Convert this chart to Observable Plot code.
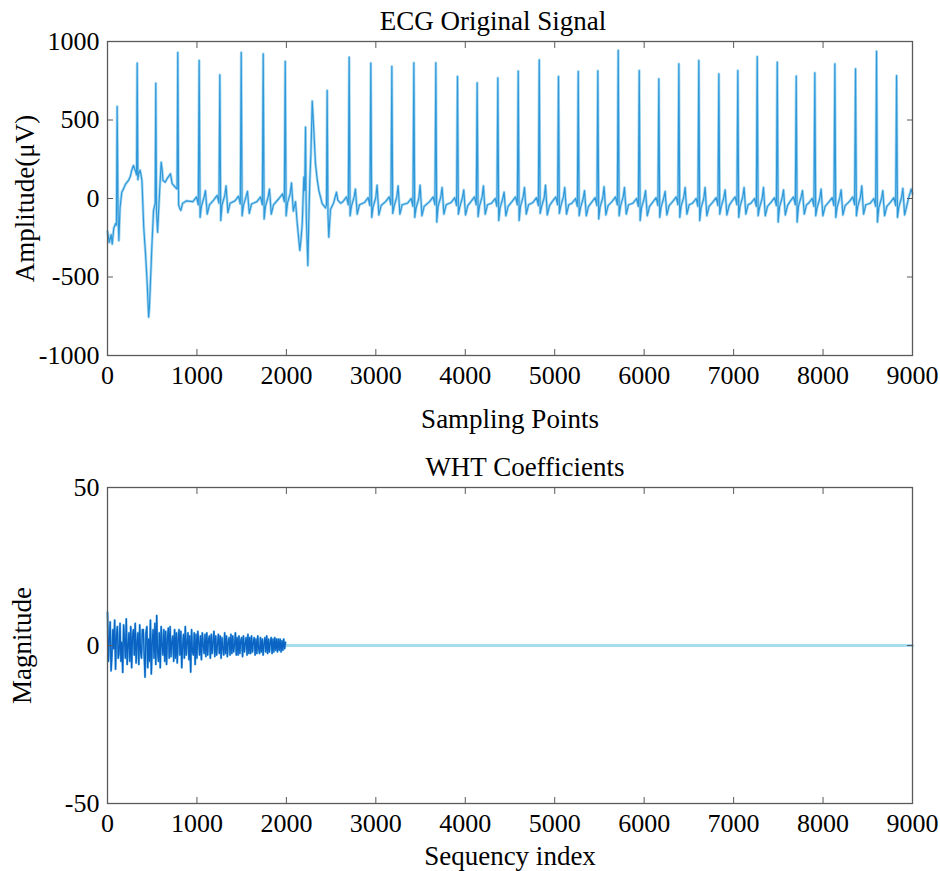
<!DOCTYPE html>
<html><head><meta charset="utf-8">
<script src="https://cdn.jsdelivr.net/npm/d3@7"></script>
<script src="https://cdn.jsdelivr.net/npm/@observablehq/plot@0.6"></script>
<style>
body{margin:0;background:#fff;}
#chart svg{display:block;}
</style>
</head><body><div id="chart"></div>
<script>
// ---------- Top panel: ECG original signal ----------
// Irregular start (baseline wander + artifact), explicit points
const segAx = [0,20,40,53,70,90,100,108,118,127,140,160,180,200,235,255,270,290,315,325,332,340,350,365,385,405,425,440,452,460,468,478,497,515,525,533,540,548,560,575,600,612,620,645,670,704,723,745,760,778,786,795,805,820,840,860,880];
const segAy = [-210,-280,-230,-290,-190,-160,-170,586,-100,-268,-60,40,63,90,115,140,178,210,170,150,862,120,160,180,115,-183,-350,-500,-650,-755,-700,-565,-290,-75,-50,-30,734,-80,-215,-40,231,180,115,104,130,157,95,80,70,60,930,-40,-60,-76,-30,-24,-15];
// Artifact around 2100-2600, explicit points
const segBx = [2120,2150,2165,2177,2195,2205,2214,2222,2240,2250,2262,2275,2289,2307,2325,2345,2363,2400,2437,2448,2456,2465,2474,2493,2527,2560,2575,2605];
const segBy = [-150,-331,-250,-162,136,50,454,-100,-427,-150,115,300,620,433,223,120,51,-32,-60,-40,688,-100,-246,-70,-30,40,-10,-30];
// Regular beats: R-peak sample, R height, S depth, T height, local baseline
const beatX = [1025,1256,1495,1741,1987,2702,2944,3179,3425,3671,3913,4133,4364,4592,4827,5042,5263,5482,5710,5945,6164,6388,6611,6835,7047,7264,7488,7700,7908,8132,8363,8598,8822];
const beatR = [879,788,930,921,873,900,862,842,864,864,777,737,768,811,883,777,809,813,943,815,762,858,879,794,815,904,868,779,800,858,826,938,783];
const beatS = [-120,-140,-110,-130,-110,-110,-120,-95,-120,-150,-100,-115,-140,-140,-95,-95,-110,-130,-110,-140,-120,-120,-140,-100,-120,-110,-150,-150,-110,-120,-110,-150,-120];
const beatT = [70,90,60,80,100,80,110,100,115,90,80,100,70,90,110,90,80,100,90,80,70,90,100,80,90,100,80,70,90,80,100,80,90];
const beatB = [-20,-10,-15,-20,0,-20,-25,-20,-30,-20,-25,-20,-30,-20,-25,-20,-30,-25,-20,-30,-25,-20,-30,-25,-20,-30,-25,-20,-30,-25,-20,-30,-25];
// Beat morphology timing (samples relative to R)
const beatOffsets = [-70,-30,-10,0,10,25,55,70,90,115];
const tailX = [8960,8985,9000];
const tailY = [10,60,30];

// ---------- Bottom panel: WHT coefficients ----------
const whtStep = 10;
const whtValues = [
10.5,-5,2,7.5,-8,-3,5,-1,8,-7.5,
3,6,-4,-2,7,-5,1,-8.5,6.5,2,
-4,8.4,-6,0,4,-5,6,-7,3,5,
-3,7,-5.5,1,4,-6,6.5,-2,-4,5,
5,-3,-10,4,6,-7,2,-5,8,-9,
1,5,-4,7,-6,9.5,-2,-5,4,-7,
6,0,-3,5,-5,4.5,-6,2,5.5,-4,
6,-3.5,1,3,-5,5,-4,4,-5.5,2,
5,-3,4.5,-7,0,3.5,-4,6,-3,1,
4,-4.5,3,-8.4,5,-2,-3,4,-6,3.5,
-4,4.5,1,-3,3,-4.5,4,0,-2.5,3.5,
-3.5,4,-3,2,3,-4,3.5,-2.5,1,4.5,
-3.5,3,-3,0.5,3.5,-2.5,3,-4,2.5,-1,
-3,4,-2.5,3,-3.5,1,2.5,-3,3.5,-2.5,
3,-2,0,4,-3,2.5,-3,3,-2.5,1.5,
2.5,-3.5,3,-2,0.5,2.5,-3,3.5,-2.5,2.5,
-2.5,3,-2,1,2.5,-3,2,-2.5,3,-1,
-2.5,2.5,-2,2,-3,0.5,2.5,-2,3,-2.5,
2,-2,1,2.5,-2.5,2,-2,2.5,-1.5,2,
-2,2,-1.5,2,-2,1.5,-1.5,2,-1,1];
const whtFlatX = [2000, 9000];
const whtFlatY = [0, 0];

const xTicks = [0,1000,2000,3000,4000,5000,6000,7000,8000,9000];
const yTicksTop = [-1000,-500,0,500,1000];
const yTicksBottom = [-50,0,50];

// ---------- assemble tables ----------
const ecg = [];
segAx.forEach((x,i)=>ecg.push({x, y: segAy[i]}));
segBx.forEach((x,i)=>ecg.push({x, y: segBy[i]}));
beatX.forEach((r,i)=>{
  const b = beatB[i];
  const vals = [b, b+30, b-20, beatR[i], beatS[i], b-30, b+30, b+beatT[i], b-80, b-20];
  beatOffsets.forEach((o,j)=>ecg.push({x: r+o, y: vals[j]}));
});
tailX.forEach((x,i)=>ecg.push({x, y: tailY[i]}));
ecg.sort((a,b)=>a.x-b.x);

const wht = whtValues.map((v,i)=>({x: i*whtStep, y: v}));
const whtFlat = whtFlatX.map((x,i)=>({x, y: whtFlatY[i]}));

const FONT = "'Liberation Serif', 'Times New Roman', serif";
const frameColor = "#5a5a5a";

function panel({height, marginTop, marginBottom, yDomain, yTicks, yInner, title, titleDx, xLabel, xLabelDy, yLabel, yLabelDx, marks}) {
  return Plot.plot({
    width: 940, height, marginLeft: 107, marginRight: 28, marginTop, marginBottom,
    style: {fontFamily: FONT, fontSize: "26px", background: "white", color: "black", overflow: "visible"},
    x: {domain: [0, 9000]},
    y: {domain: yDomain},
    marks: [
      ...marks,
      Plot.frame({stroke: frameColor, strokeWidth: 1.3}),
      Plot.axisX(xTicks, {anchor: "bottom", tickSize: 0, tickPadding: 10, label: null, tickFormat: d => String(d)}),
      Plot.axisX(xTicks.slice(1, -1), {anchor: "bottom", tickSize: -6, tickFormat: () => "", label: null, stroke: frameColor}),
      Plot.axisX(xTicks.slice(1, -1), {anchor: "top", tickSize: -6, tickFormat: () => "", label: null, stroke: frameColor}),
      Plot.axisY(yTicks, {anchor: "left", tickSize: 0, tickPadding: 8, label: null, tickFormat: d => String(d)}),
      Plot.axisY(yInner, {anchor: "left", tickSize: -6, tickFormat: () => "", label: null, stroke: frameColor}),
      Plot.axisY(yInner, {anchor: "right", tickSize: -6, tickFormat: () => "", label: null, stroke: frameColor}),
      Plot.text([title], {text: d => d, frameAnchor: "top", lineAnchor: "bottom", dy: -12, dx: titleDx, fontSize: 27}),
      Plot.text([xLabel], {text: d => d, frameAnchor: "bottom", lineAnchor: "bottom", dy: xLabelDy, fontSize: 27}),
      Plot.text([yLabel], {text: d => d, frameAnchor: "left", textAnchor: "middle", rotate: -90, dx: yLabelDx, fontSize: 27})
    ]
  });
}

const ecgPanel = panel({
  height: 440, marginTop: 41, marginBottom: 85,
  yDomain: [-1000, 1000], yTicks: yTicksTop, yInner: [-500, 0, 500],
  title: "ECG Original Signal", titleDx: -17,
  xLabel: "Sampling Points", xLabelDy: 72,
  yLabel: "Amplitude(μV)", yLabelDx: -82,
  marks: [
    Plot.line(ecg, {x: "x", y: "y", stroke: "#aadbf3", strokeWidth: 2.8, curve: "linear"}),
    Plot.line(ecg, {x: "x", y: "y", stroke: "#3098d9", strokeWidth: 1.2, curve: "linear"})
  ]
});

const whtPanel = panel({
  height: 431, marginTop: 47, marginBottom: 68,
  yDomain: [-50, 50], yTicks: yTicksBottom, yInner: [0],
  title: "WHT Coefficients", titleDx: 15,
  xLabel: "Sequency index", xLabelDy: 61,
  yLabel: "Magnitude", yLabelDx: -85,
  marks: [
    Plot.line(whtFlat, {x: "x", y: "y", stroke: "#a8dcf0", strokeWidth: 3}),
    Plot.line(wht, {x: "x", y: "y", stroke: "#6fbdeb", strokeWidth: 2.2}),
    Plot.line(wht, {x: "x", y: "y", stroke: "#0b63c4", strokeWidth: 1.3})
  ]
});

document.getElementById("chart").append(ecgPanel, whtPanel);
</script></body></html>
